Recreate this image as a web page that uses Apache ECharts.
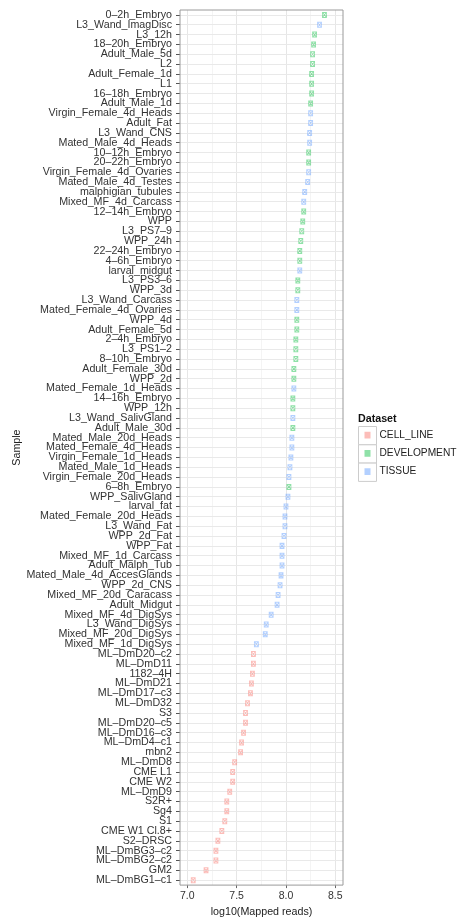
<!DOCTYPE html>
<html>
<head>
<meta charset="utf-8">
<script src="https://cdn.jsdelivr.net/npm/echarts@6/dist/echarts.min.js"></script>
<style>
html,body{margin:0;padding:0;background:#fff;}
#chart{width:461px;height:923px;}
</style>
</head>
<body>
<div id="chart"></div>
<script>
// samples, top to bottom
var samples = ['0\u20132h_Embryo','L3_Wand_ImagDisc','L3_12h','18\u201320h_Embryo','Adult_Male_5d','L2','Adult_Female_1d','L1','16\u201318h_Embryo','Adult_Male_1d',
  'Virgin_Female_4d_Heads','Adult_Fat','L3_Wand_CNS','Mated_Male_4d_Heads','10\u201312h_Embryo','20\u201322h_Embryo','Virgin_Female_4d_Ovaries','Mated_Male_4d_Testes','malphigian_tubules','Mixed_MF_4d_Carcass',
  '12\u201314h_Embryo','WPP','L3_PS7\u20139','WPP_24h','22\u201324h_Embryo','4\u20136h_Embryo','larval_midgut','L3_PS3\u20136','WPP_3d','L3_Wand_Carcass',
  'Mated_Female_4d_Ovaries','WPP_4d','Adult_Female_5d','2\u20134h_Embryo','L3_PS1\u20132','8\u201310h_Embryo','Adult_Female_30d','WPP_2d','Mated_Female_1d_Heads','14\u201316h_Embryo',
  'WPP_12h','L3_Wand_SalivGland','Adult_Male_30d','Mated_Male_20d_Heads','Mated_Female_4d_Heads','Virgin_Female_1d_Heads','Mated_Male_1d_Heads','Virgin_Female_20d_Heads','6\u20138h_Embryo','WPP_SalivGland',
  'larval_fat','Mated_Female_20d_Heads','L3_Wand_Fat','WPP_2d_Fat','WPP_Fat','Mixed_MF_1d_Carcass','Adult_Malph_Tub','Mated_Male_4d_AccesGlands','WPP_2d_CNS','Mixed_MF_20d_Caracass',
  'Adult_Midgut','Mixed_MF_4d_DigSys','L3_Wand_DigSys','Mixed_MF_20d_DigSys','Mixed_MF_1d_DigSys','ML\u2013DmD20\u2013c2','ML\u2013DmD11','1182\u20134H','ML\u2013DmD21','ML\u2013DmD17\u2013c3',
  'ML\u2013DmD32','S3','ML\u2013DmD20\u2013c5','ML\u2013DmD16\u2013c3','ML\u2013DmD4\u2013c1','mbn2','ML\u2013DmD8','CME L1','CME W2','ML\u2013DmD9',
  'S2R+','Sg4','S1','CME W1 Cl.8+','S2\u2013DRSC','ML\u2013DmBG3\u2013c2','ML\u2013DmBG2\u2013c2','GM2','ML\u2013DmBG1\u2013c1'];

// log10(Mapped reads)
var logReads = [8.39,8.34,8.29,8.28,8.27,8.27,8.26,8.26,8.26,8.25,
  8.25,8.25,8.24,8.24,8.23,8.23,8.23,8.22,8.19,8.18,
  8.18,8.17,8.16,8.15,8.14,8.14,8.14,8.12,8.12,8.11,
  8.11,8.11,8.11,8.10,8.10,8.10,8.08,8.08,8.08,8.07,
  8.07,8.07,8.07,8.06,8.06,8.05,8.04,8.03,8.03,8.02,
  8.00,7.99,7.99,7.98,7.96,7.96,7.96,7.95,7.94,7.92,
  7.91,7.85,7.80,7.79,7.70,7.67,7.67,7.66,7.65,7.64,
  7.61,7.59,7.59,7.57,7.55,7.54,7.48,7.46,7.46,7.43,
  7.40,7.40,7.38,7.35,7.31,7.29,7.29,7.19,7.06];

// C = CELL_LINE, D = DEVELOPMENT, T = TISSUE
var groups = ['D','T','D','D','D','D','D','D','D','D',
  'T','T','T','T','D','D','T','T','T','T',
  'D','D','D','D','D','D','T','D','D','T',
  'T','D','D','D','D','D','D','D','T','D',
  'D','T','D','T','T','T','T','T','D','T',
  'T','T','T','T','T','T','T','T','T','T',
  'T','T','T','T','T','C','C','C','C','C',
  'C','C','C','C','C','C','C','C','C','C',
  'C','C','C','C','C','C','C','C','C'];

var datasetNames = ['CELL_LINE','DEVELOPMENT','TISSUE'];
var datasetCodes = ['C','D','T'];
var datasetColors = ['rgba(248,118,109,0.6)','rgba(0,186,56,0.55)','rgba(97,156,255,0.6)'];

var xTicks = [7.0, 7.5, 8.0, 8.5];
var xMinorTicks = [7.25, 7.75, 8.25];

var FONT = "'Liberation Sans', Arial, Helvetica, sans-serif";
var MARK = 'path://M0,0L10,0L10,12L0,12ZM0,0L10,12M10,0L0,12';

var myChart = echarts.init(document.getElementById('chart'));

// grid lines (drawn through the axes' scales)
var gridLines = [];
xTicks.forEach(function (v) {
  gridLines.push({ xAxis: v, lineStyle: { color: '#e6e6e6', width: 1, type: 'solid' } });
});
xMinorTicks.forEach(function (v) {
  gridLines.push({ xAxis: v, lineStyle: { color: '#f4f4f4', width: 1, type: 'solid' } });
});
samples.forEach(function (name) {
  gridLines.push({ yAxis: name, lineStyle: { color: '#e9e9e9', width: 1, type: 'solid' } });
});

var series = datasetCodes.map(function (code, k) {
  var pts = [];
  for (var i = 0; i < samples.length; i++) {
    if (groups[i] == code) pts.push([logReads[i], samples[i]]);
  }
  var s = {
    name: datasetNames[k],
    type: 'scatter',
    symbol: MARK,
    symbolSize: [4, 5],
    symbolKeepAspect: false,
    z: 3,
    itemStyle: { color: 'rgba(255,255,255,0)', borderColor: datasetColors[k], borderWidth: 0.9 },
    data: pts
  };
  if (k == 0) {
    s.markLine = {
      silent: true,
      z: 1,
      symbol: ['none', 'none'],
      label: { show: false },
      animation: false,
      emphasis: { disabled: true },
      data: gridLines
    };
  }
  return s;
});

var option = {
  animation: false,
  backgroundColor: '#fff',
  textStyle: { fontFamily: FONT },
  grid: {
    left: 180, top: 10, width: 163, height: 878,
    show: true, z: 4,
    borderColor: '#9a9a9a', borderWidth: 1,
    backgroundColor: 'rgba(0,0,0,0)'
  },
  xAxis: {
    type: 'value',
    min: 6.926, max: 8.578,
    name: 'log10(Mapped reads)',
    nameLocation: 'middle',
    nameGap: 18,
    nameTextStyle: { color: '#222', fontSize: 10.7, fontFamily: FONT },
    axisLine: { show: false },
    axisTick: { show: true, length: 3, customValues: xTicks, lineStyle: { color: '#666' } },
    axisLabel: {
      customValues: xTicks, margin: 6, color: '#333', fontSize: 10.5, fontFamily: FONT,
      formatter: function (v) { return v.toFixed(1); }
    },
    splitLine: { show: false }
  },
  yAxis: {
    type: 'category',
    data: samples,
    inverse: true,
    boundaryGap: true,
    name: 'Sample',
    nameLocation: 'middle',
    nameGap: 155,
    nameTextStyle: { color: '#222', fontSize: 10.7, fontFamily: FONT },
    axisLine: { show: false },
    axisTick: { show: true, length: 4, interval: 0, alignWithLabel: true, lineStyle: { color: '#555' } },
    axisLabel: { interval: 0, margin: 8, color: '#333', fontSize: 10.7, fontFamily: FONT },
    splitLine: { show: false }
  },
  legend: {
    orient: 'vertical',
    left: 364.5, top: 425.9,
    padding: 0,
    itemGap: 0,
    itemWidth: 4, itemHeight: 5,
    icon: MARK,
    data: datasetNames,
    textStyle: { color: '#222', fontSize: 10.2, fontFamily: FONT, lineHeight: 18.3, padding: [0, 0, 0, 5] }
  },
  graphic: [
    { type: 'text', x: 358, y: 419, style: { text: 'Dataset', font: 'bold 10.7px ' + FONT, fill: '#111', verticalAlign: 'middle' } },
    { type: 'rect', shape: { x: 358.5, y: 426.5, width: 18, height: 18.3 }, style: { fill: '#fff', stroke: '#cccccc', lineWidth: 1 } },
    { type: 'rect', shape: { x: 358.5, y: 444.8, width: 18, height: 18.3 }, style: { fill: '#fff', stroke: '#cccccc', lineWidth: 1 } },
    { type: 'rect', shape: { x: 358.5, y: 463.1, width: 18, height: 18.3 }, style: { fill: '#fff', stroke: '#cccccc', lineWidth: 1 } }
  ],
  series: series
};

myChart.setOption(option);
</script>
</body>
</html>
